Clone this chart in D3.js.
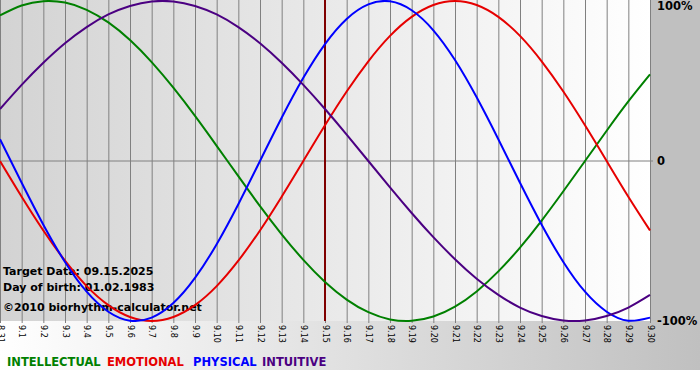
<!DOCTYPE html>
<html>
<head>
<meta charset="utf-8">
<script src="https://cdn.jsdelivr.net/npm/d3@7"></script>
<style>
  body { margin: 0; background: #fff; }
  svg { display: block; font-family: "DejaVu Sans", Verdana, sans-serif; }
</style>
</head>
<body>
<div id="chart"></div>
<script>
// day labels, 08.31 .. 09.30
const days = ['8.31', '9.1', '9.2', '9.3', '9.4', '9.5', '9.6', '9.7', '9.8', '9.9', '9.10',
    '9.11', '9.12', '9.13', '9.14', '9.15', '9.16', '9.17', '9.18', '9.19', '9.20',
    '9.21', '9.22', '9.23', '9.24', '9.25', '9.26', '9.27', '9.28', '9.29', '9.30'];

const intellectual = [0.910, 0.972, 0.999, 0.990, 0.945, 0.866, 0.756, 0.618, 0.458, 0.282, 0.095,
    -0.095, -0.282, -0.458, -0.618, -0.756, -0.866, -0.945, -0.990, -0.999, -0.972,
    -0.910, -0.815, -0.690, -0.541, -0.372, -0.189, 0.000, 0.189, 0.372, 0.541];

const emotional = [0.000, -0.223, -0.434, -0.623, -0.782, -0.901, -0.975, -1.000, -0.975, -0.901, -0.782,
    -0.623, -0.434, -0.223, 0.000, 0.223, 0.434, 0.623, 0.782, 0.901, 0.975,
    1.000, 0.975, 0.901, 0.782, 0.623, 0.434, 0.223, 0.000, -0.223, -0.434];

const physical = [0.136, -0.136, -0.398, -0.631, -0.817, -0.942, -0.998, -0.979, -0.888, -0.731, -0.520,
    -0.270, 0.000, 0.270, 0.520, 0.731, 0.888, 0.979, 0.998, 0.942, 0.817,
    0.631, 0.398, 0.136, -0.136, -0.398, -0.631, -0.817, -0.942, -0.998, -0.979];

const intuitive = [0.325, 0.476, 0.614, 0.736, 0.837, 0.916, 0.969, 0.997, 0.997, 0.969, 0.916,
    0.837, 0.736, 0.614, 0.476, 0.325, 0.165, 0.000, -0.165, -0.325, -0.476,
    -0.614, -0.736, -0.837, -0.916, -0.969, -0.997, -0.997, -0.969, -0.916, -0.837];

const series = [
    { name: 'INTELLECTUAL', values: intellectual, color: '#008000' },
    { name: 'EMOTIONAL', values: emotional, color: '#e60000' },
    { name: 'PHYSICAL', values: physical, color: '#0000ff' },
    { name: 'INTUITIVE', values: intuitive, color: '#4b0082' }
];

const targetIndex = 15;
const yTicks = [1, 0, -1];
const yTickLabels = ['100%', '0', '-100%'];

const W = 700, H = 380;
const plotW = 650, plotH = 321;

const svg = d3.select('#chart').append('svg')
    .attr('width', W)
    .attr('height', H);

const defs = svg.append('defs');
const bgGrad = defs.append('linearGradient').attr('id', 'bgGrad');
bgGrad.append('stop').attr('offset', '0%').attr('stop-color', '#ffffff');
bgGrad.append('stop').attr('offset', '100%').attr('stop-color', '#c0c0c0');
const plotGrad = defs.append('linearGradient').attr('id', 'plotGrad');
plotGrad.append('stop').attr('offset', '0%').attr('stop-color', '#d3d3d3');
plotGrad.append('stop').attr('offset', '100%').attr('stop-color', '#ffffff');

svg.append('rect').attr('width', W).attr('height', 370).attr('fill', 'url(#bgGrad)');
svg.append('rect').attr('x', plotW).attr('width', W - plotW).attr('height', plotH).attr('fill', '#c0c0c0');
svg.append('rect').attr('width', plotW).attr('height', plotH).attr('fill', 'url(#plotGrad)');

const x = d3.scaleLinear().domain([0, days.length - 1]).range([0, plotW]);
const y = d3.scaleLinear().domain([-1, 1]).range([plotH, 1]);

// vertical day gridlines + rotated labels
const xAxis = svg.append('g')
    .attr('transform', `translate(0,${plotH})`)
    .call(d3.axisBottom(x)
        .tickValues(d3.range(days.length))
        .tickFormat(i => days[i])
        .tickSizeInner(-plotH)
        .tickSizeOuter(0));
xAxis.select('.domain').remove();
xAxis.selectAll('.tick line')
    .attr('stroke', '#808080')
    .attr('y2', -plotH)
    .attr('y1', 2);
xAxis.selectAll('.tick text')
    .attr('transform', 'rotate(90)')
    .attr('x', 4)
    .attr('y', 0)
    .attr('dy', '0.35em')
    .style('text-anchor', 'start')
    .style('font-size', '8px')
    .style('font-family', '"DejaVu Sans", Verdana, sans-serif')
    .attr('fill', '#000');

// zero line
svg.append('line')
    .attr('x1', 0).attr('x2', plotW + 3)
    .attr('y1', y(0)).attr('y2', y(0))
    .attr('stroke', '#808080');

// right labels
svg.append('g').selectAll('text')
    .data(yTicks)
    .enter().append('text')
    .attr('x', 657)
    .attr('y', d => y(d))
    .attr('dy', (d, i) => i === 0 ? '0.8em' : '0.35em')
    .style('font-size', '11.5px')
    .style('font-weight', 'bold')
    .attr('fill', '#000')
    .text((d, i) => yTickLabels[i]);

// info text
const info = ['Target Data: 09.15.2025', 'Day of birth: 01.02.1983', '©2010 biorhythm-calculator.net'];
const infoY = [275, 291, 311];
svg.append('g').selectAll('text')
    .data(info)
    .enter().append('text')
    .attr('x', 3)
    .attr('y', (d, i) => infoY[i])
    .style('font-size', '11px')
    .style('font-weight', 'bold')
    .attr('fill', '#000')
    .text(d => d);

// target date line
svg.append('line')
    .attr('x1', x(targetIndex)).attr('x2', x(targetIndex))
    .attr('y1', 0).attr('y2', plotH)
    .attr('stroke', '#800000')
    .attr('stroke-width', 2);

const line = d3.line()
    .x((d, i) => x(i))
    .y(d => y(d))
    .curve(d3.curveNatural);

svg.append('g').selectAll('path')
    .data(series)
    .enter().append('path')
    .attr('d', d => line(d.values))
    .attr('fill', 'none')
    .attr('stroke', d => d.color)
    .attr('stroke-width', 2);

// legend
const legendX = [7, 107, 193, 262];
svg.append('g').selectAll('text')
    .data(series)
    .enter().append('text')
    .attr('x', (d, i) => legendX[i])
    .attr('y', 366)
    .style('font-size', '11.5px')
    .style('font-weight', 'bold')
    .attr('fill', d => d.color)
    .text(d => d.name);
</script>
</body>
</html>
